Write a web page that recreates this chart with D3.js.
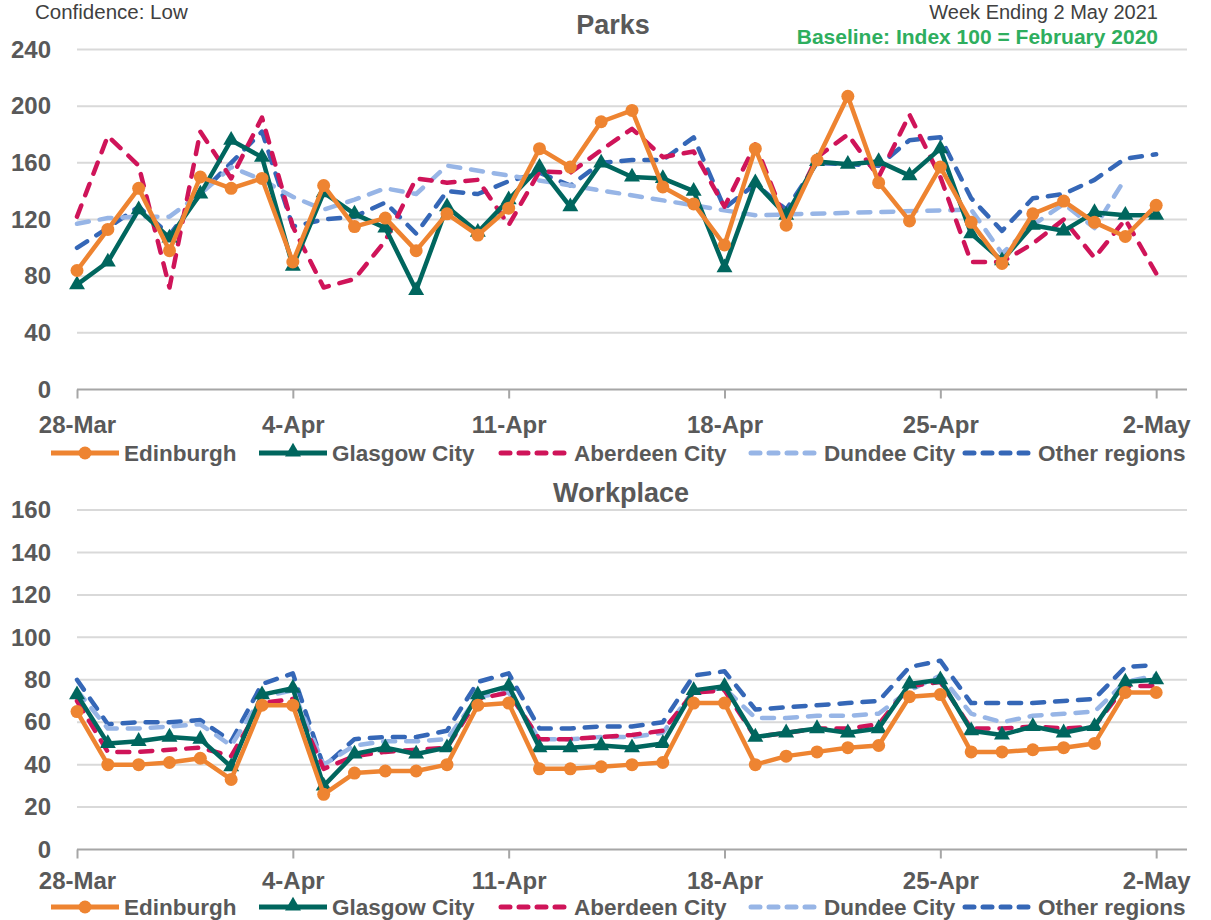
<!DOCTYPE html>
<html>
<head>
<meta charset="utf-8">
<script src="https://cdn.jsdelivr.net/npm/d3@7"></script>
<style>
  html, body { margin: 0; padding: 0; background: #fff; }
  svg { display: block; font-family: "Liberation Sans", Arial, sans-serif; }
</style>
</head>
<body>
<svg id="chart" width="1211" height="920"></svg>
<script>
// ---- data -------------------------------------------------------------
const days = ["28-Mar","29-Mar","30-Mar","31-Mar","1-Apr","2-Apr","3-Apr","4-Apr","5-Apr","6-Apr",
  "7-Apr","8-Apr","9-Apr","10-Apr","11-Apr","12-Apr","13-Apr","14-Apr","15-Apr","16-Apr",
  "17-Apr","18-Apr","19-Apr","20-Apr","21-Apr","22-Apr","23-Apr","24-Apr","25-Apr","26-Apr",
  "27-Apr","28-Apr","29-Apr","30-Apr","1-May","2-May"];
const tickLabels = ["28-Mar","4-Apr","11-Apr","18-Apr","25-Apr","2-May"];
const seriesNames = ["Edinburgh","Glasgow City","Aberdeen City","Dundee City","Other regions"];

// Parks (index, Feb 2020 = 100); null = no published value
const parksEdinburgh = [84,113,142,98,150,142,149,90,144,115,121,98,124,109,128,170,157,189,197,143,131,102,170,116,162,207,146,119,157,118,89,124,133,118,108,130];
const parksGlasgow   = [74,90,127,107,138,176,164,87,139,124,114,70,129,111,134,157,129,160,150,149,140,86,146,123,161,159,161,151,170,110,91,116,112,125,123,123];
const parksAberdeen  = [122,179,158,72,182,149,192,115,72,78,105,149,146,148,116,154,153,169,184,164,168,129,173,118,164,180,150,194,150,90,90,103,120,93,120,82];
const parksDundee    = [117,121,122,122,138,157,148,136,127,134,142,138,158,null,null,null,null,null,null,null,null,null,123,null,null,null,null,null,null,127,96,116,131,114,149,null];
const parksOther     = [100,114,129,109,138,160,182,115,120,122,132,110,140,138,147,153,144,160,162,162,178,128,145,127,160,159,158,176,178,135,112,135,138,148,163,166];
const parksTicks = [0,40,80,120,160,200,240];

// Workplace (index, Feb 2020 = 100)
const workEdinburgh = [65,40,40,41,43,33,68,68,26,36,37,37,40,68,69,38,38,39,40,41,69,69,40,44,46,48,49,72,73,46,46,47,48,50,74,74];
const workGlasgow   = [73,50,51,53,52,39,73,76,30,45,48,45,48,73,77,48,48,49,48,50,75,77,53,55,57,55,57,78,80,56,54,58,55,58,79,80];
const workAberdeen  = [70,46,46,47,48,44,69,71,38,44,46,47,48,71,74,52,52,53,54,56,74,75,53,55,57,57,59,77,79,57,57,58,57,58,77,77];
const workDundee    = [75,57,57,58,59,49,72,75,40,49,51,51,52,72,74,52,52,53,53,55,75,76,62,62,63,63,64,75,82,64,60,63,64,65,79,82];
const workOther     = [80,59,60,60,61,51,78,83,39,52,53,53,56,79,83,57,57,58,58,60,82,84,66,67,68,69,70,86,89,69,69,69,70,71,86,87];
const workTicks = [0,20,40,60,80,100,120,140,160];

// ---- styling -----------------------------------------------------------
const styles = [
  { color: "#EE8431", dash: null,   marker: "circle"   },
  { color: "#00665E", dash: null,   marker: "triangle" },
  { color: "#CF1459", dash: "12,11", marker: null },
  { color: "#97B5E6", dash: "12,11", marker: null },
  { color: "#3567B7", dash: "12,11", marker: null }
];
const axisGrey = "#595959";
const tickSize = 24;
const legendSize = 22.5;

const parseDay = d3.utcParse("%d-%b-%Y");
const dates = days.map(d => parseDay(d + "-2021"));
const tickDates = tickLabels.map(d => parseDay(d + "-2021"));
const fmt = d3.utcFormat("%-d-%b");

const svg = d3.select("#chart");

const x = d3.scaleUtc()
  .domain([dates[0], d3.utcDay.offset(dates[dates.length - 1], 1)])
  .range([77, 1187]);

// ---- header --------------------------------------------------------------
svg.append("text").attr("x", 35).attr("y", 19)
  .attr("font-size", 20.5).attr("fill", "#404040").text("Confidence: Low");
svg.append("text").attr("x", 1158).attr("y", 19).attr("text-anchor", "end")
  .attr("font-size", 20).attr("fill", "#404040").text("Week Ending 2 May 2021");
svg.append("text").attr("x", 1158).attr("y", 44).attr("text-anchor", "end")
  .attr("font-size", 21).attr("font-weight", "bold").attr("fill", "#2EAE5E")
  .text("Baseline: Index 100 = February 2020");

// ---- one panel -----------------------------------------------------------
function panel(opts) {
  const { title, titleX, titleY, top, bottom, ticks, series, legendY, xLabelOffset } = opts;
  const y = d3.scaleLinear().domain([0, d3.max(ticks)]).range([bottom, top]);
  const g = svg.append("g");

  g.append("text").attr("x", titleX).attr("y", titleY).attr("text-anchor", "middle")
    .attr("font-size", 27).attr("font-weight", "bold").attr("fill", axisGrey).text(title);

  // gridlines
  g.append("g").selectAll("line").data(ticks.filter(t => t > 0)).join("line")
    .attr("x1", x.range()[0]).attr("x2", x.range()[1])
    .attr("y1", d => y(d)).attr("y2", d => y(d))
    .attr("stroke", "#D9D9D9").attr("stroke-width", 2);

  // y labels
  const ya = g.append("g").attr("transform", `translate(51,0)`)
    .call(d3.axisLeft(y).tickValues(ticks).tickSize(0).tickPadding(0));
  ya.select(".domain").remove();
  ya.selectAll("text").attr("font-size", tickSize).attr("font-weight", "bold")
    .attr("fill", axisGrey).attr("font-family", "Liberation Sans, Arial, sans-serif");

  // x axis
  const xa = g.append("g").attr("transform", `translate(0,${bottom})`)
    .call(d3.axisBottom(x).tickValues(tickDates).tickFormat(fmt).tickSize(9));
  xa.select(".domain").attr("stroke", "#A6A6A6").attr("stroke-width", 2)
    .attr("d", `M${x.range()[0]},0H${x.range()[1]}`);
  xa.selectAll(".tick line").attr("stroke", "#A6A6A6").attr("stroke-width", 2);
  xa.selectAll("text").attr("font-size", tickSize).attr("font-weight", "bold")
    .attr("fill", axisGrey).attr("font-family", "Liberation Sans, Arial, sans-serif")
    .attr("y", xLabelOffset).attr("dy", "0.35em");

  const line = d3.line().x(d => x(d.date)).y(d => y(d.v));

  // series, drawn back to front: other regions first
  series.map((vals, i) => ({ vals, i })).reverse().forEach(({ vals, i }) => {
    const st = styles[i];
    const pts = vals.map((v, k) => ({ date: dates[k], v })).filter(d => d.v != null);
    g.append("path").datum(pts)
      .attr("fill", "none").attr("stroke", st.color).attr("stroke-width", 4.5)
      .attr("stroke-linejoin", "round")
      .attr("stroke-linecap", st.dash ? "round" : "butt")
      .attr("stroke-dasharray", st.dash)
      .attr("d", line);
    if (st.marker === "circle") {
      g.append("g").selectAll("circle").data(pts).join("circle")
        .attr("cx", d => x(d.date)).attr("cy", d => y(d.v)).attr("r", 6.5)
        .attr("fill", st.color);
    } else if (st.marker === "triangle") {
      const tri = d3.symbol(d3.symbolTriangle, 110);
      g.append("g").selectAll("path").data(pts).join("path")
        .attr("transform", d => `translate(${x(d.date)},${y(d.v)})`)
        .attr("d", tri).attr("fill", st.color);
    }
  });

  // legend
  const legendX = [48, 256, 498, 748, 962];
  seriesNames.forEach((name, i) => {
    const st = styles[i];
    const lg = g.append("g").attr("transform", `translate(${legendX[i]},${legendY})`);
    lg.append("line").attr("x1", 3).attr("x2", 71).attr("y1", 0).attr("y2", 0)
      .attr("stroke", st.color).attr("stroke-width", 5)
      .attr("stroke-linecap", st.dash ? "round" : "butt")
      .attr("stroke-dasharray", st.dash ? "9,9" : null);
    if (st.marker === "circle") {
      lg.append("circle").attr("cx", 37).attr("cy", 0).attr("r", 6.5).attr("fill", st.color);
    } else if (st.marker === "triangle") {
      lg.append("path").attr("transform", "translate(37,-1)")
        .attr("d", d3.symbol(d3.symbolTriangle, 110)).attr("fill", st.color);
    }
    lg.append("text").attr("x", 76).attr("y", 0).attr("dy", "0.36em")
      .attr("font-size", legendSize).attr("font-weight", "bold").attr("fill", axisGrey).text(name);
  });
}

panel({
  title: "Parks", titleX: 613, titleY: 34,
  top: 49.5, bottom: 389.5, ticks: parksTicks, xLabelOffset: 35.5,
  series: [parksEdinburgh, parksGlasgow, parksAberdeen, parksDundee, parksOther],
  legendY: 453
});
panel({
  title: "Workplace", titleX: 621, titleY: 502,
  top: 510, bottom: 849.5, ticks: workTicks, xLabelOffset: 31.5,
  series: [workEdinburgh, workGlasgow, workAberdeen, workDundee, workOther],
  legendY: 907
});
</script>
</body>
</html>
